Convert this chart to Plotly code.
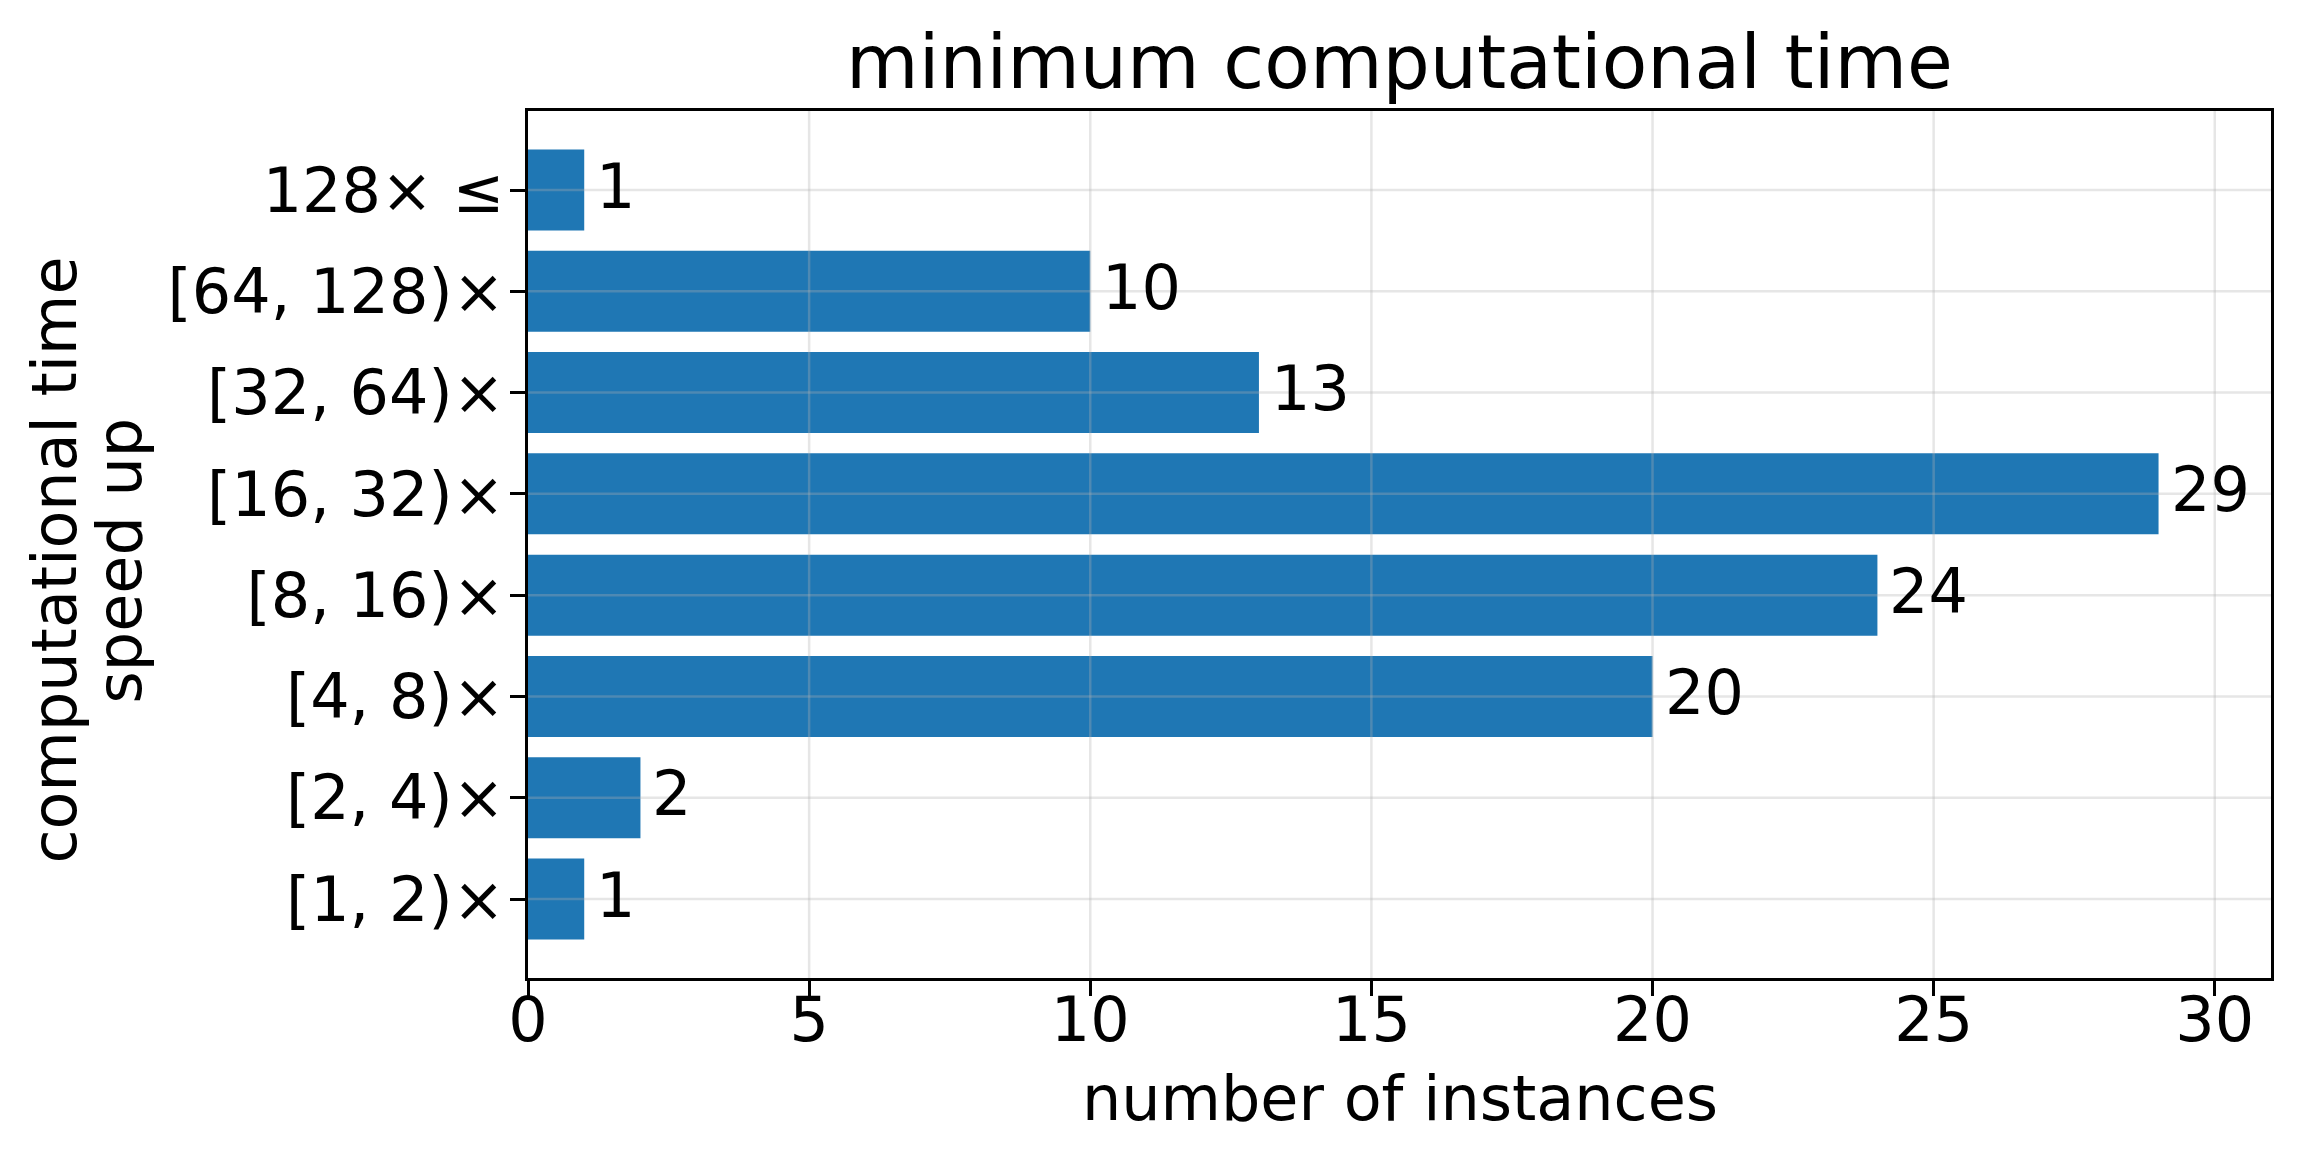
import plotly.graph_objects as go

# ---- data ----
categories = ["[1, 2)×", "[2, 4)×", "[4, 8)×", "[8, 16)×",
              "[16, 32)×", "[32, 64)×", "[64, 128)×", "128× ≤"]
counts = [1, 2, 20, 24, 29, 13, 10, 1]
x_ticks = [0, 5, 10, 15, 20, 25, 30]
x_range = [0, 31]
y_range = [-0.78, len(categories) - 1 + 0.78]

title_text = "minimum computational time"
x_title = "number of instances"
y_title_lines = ["computational time", "speed up"]

FONT = "DejaVu Sans"
BAR_COLOR = "#1f77b4"
GRID = "rgba(176,176,176,0.32)"
FS = 62

W, H = 2299, 1150
L, R, T, B = 528, 28, 111, 172

fig = go.Figure()
fig.add_trace(go.Bar(
    x=counts, y=categories, orientation="h", width=0.8,
    marker=dict(color=BAR_COLOR, line=dict(width=0)),
    showlegend=False, hoverinfo="skip",
))

shapes = []
for v in x_ticks:
    if x_range[0] < v < x_range[1]:
        shapes.append(dict(type="line", xref="x", yref="paper", x0=v, x1=v, y0=0, y1=1,
                           line=dict(color=GRID, width=2.5), layer="above"))
for c in categories:
    shapes.append(dict(type="line", xref="paper", yref="y", x0=0, x1=1, y0=c, y1=c,
                       line=dict(color=GRID, width=2.5), layer="above"))

annotations = []
for c, v in zip(categories, counts):
    annotations.append(dict(x=v, y=c, xref="x", yref="y", text=str(v), showarrow=False,
                            xanchor="left", yanchor="middle", xshift=10, yshift=4,
                            font=dict(family=FONT, size=FS, color="black")))

# axis titles
annotations.append(dict(x=0.5, y=0, xref="paper", yref="paper", text=x_title, showarrow=False,
                        xanchor="center", yanchor="middle", yshift=-120,
                        font=dict(family=FONT, size=FS, color="black")))
for line_text, cx in zip(y_title_lines, [54, 119]):
    annotations.append(dict(x=0, y=0.5, xref="paper", yref="paper", text=line_text, showarrow=False,
                            textangle=-90, xanchor="center", yanchor="middle", xshift=cx - L,
                            yshift=-16,
                            font=dict(family=FONT, size=FS, color="black")))

fig.update_layout(
    width=W, height=H,
    margin=dict(l=L, r=R, t=T, b=B, pad=0),
    paper_bgcolor="white", plot_bgcolor="white",
    font=dict(family=FONT, size=FS, color="black"),
    title=dict(text=title_text, x=0.5 * (L + W - R) / W, xanchor="center",
               y=1 - 62 / H, yanchor="middle", yref="container",
               font=dict(family=FONT, size=74.5, color="black")),
    shapes=shapes,
    annotations=annotations,
    xaxis=dict(range=x_range, tickvals=x_ticks, ticks="outside", ticklen=15, tickwidth=3,
               tickcolor="black", showline=True, linewidth=3, linecolor="black", mirror=True,
               showgrid=False, zeroline=False, tickfont=dict(family=FONT, size=FS),
               ticklabelstandoff=-29),
    yaxis=dict(type="category", range=y_range, categoryorder="array", categoryarray=categories,
               ticks="outside", ticklen=15, tickwidth=3, tickcolor="black",
               showline=True, linewidth=3, linecolor="black", mirror=True,
               showgrid=False, zeroline=False, tickfont=dict(family=FONT, size=FS),
               ticklabelstandoff=-7),
)

fig.write_html("out.html", config={"displayModeBar": False},
               post_script="document.body.style.margin='0';document.body.style.padding='0';")
